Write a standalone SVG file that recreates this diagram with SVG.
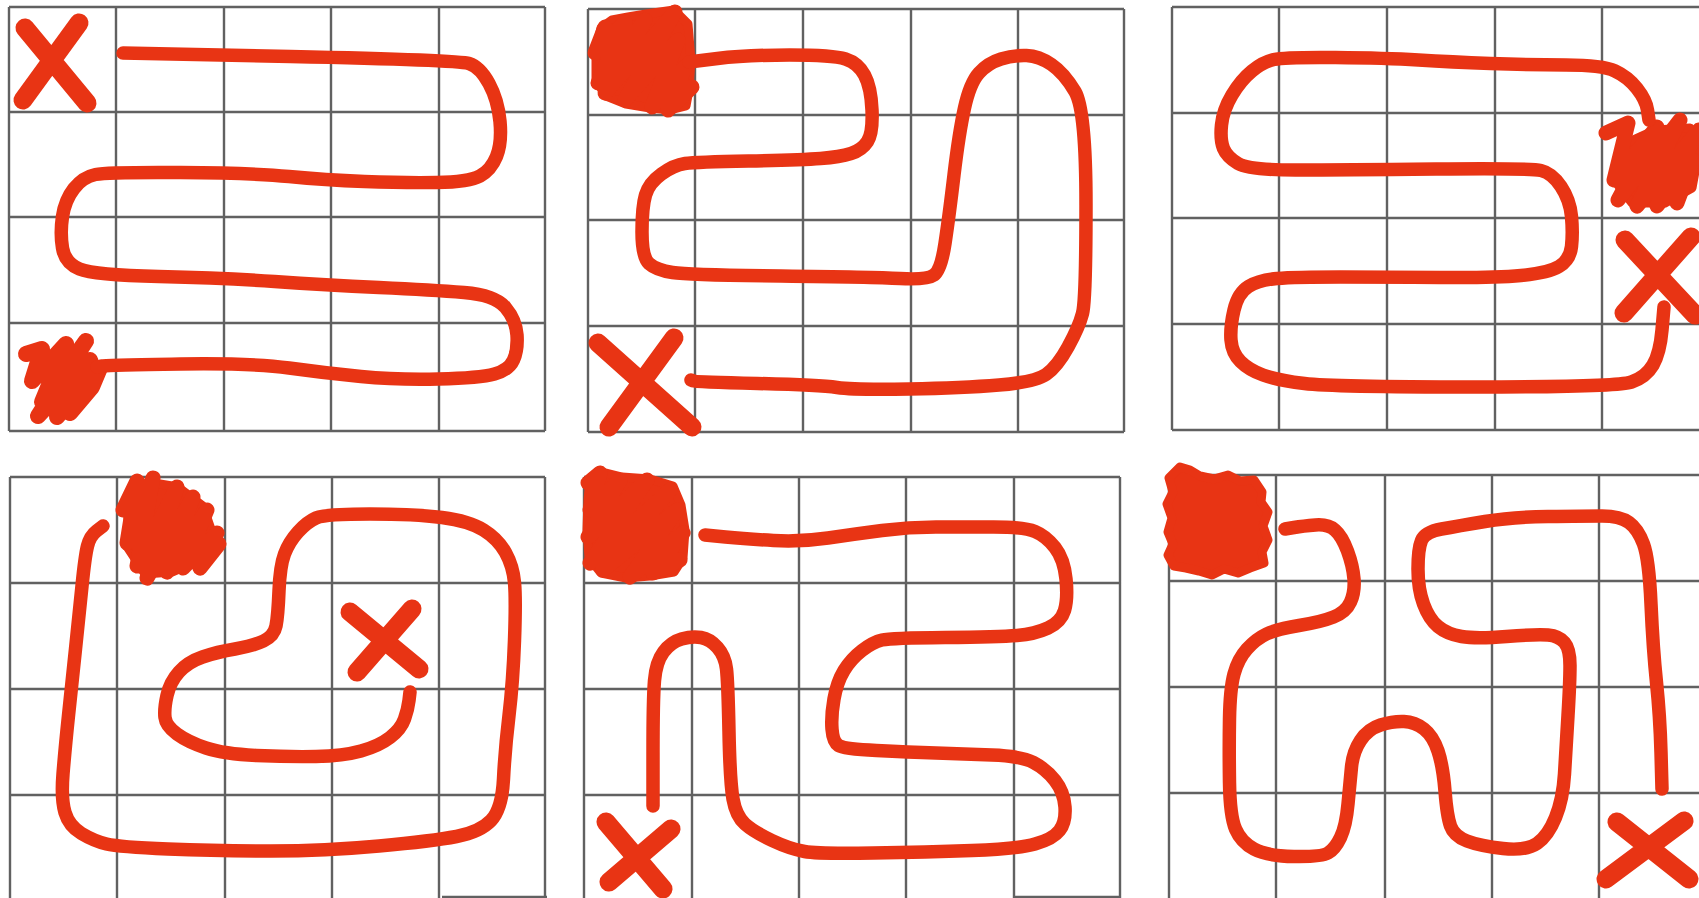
<svg xmlns="http://www.w3.org/2000/svg" width="1699" height="898" viewBox="0 0 1699 898">
<style>
.grid{fill:none;stroke:#505050;stroke-width:2.4;stroke-opacity:0.9}
.route{fill:none;stroke:#e83414;stroke-width:13.5;stroke-linecap:round;stroke-linejoin:round}
.x{fill:none;stroke:#e83414;stroke-width:19;stroke-linecap:round}
.scrib{fill:none;stroke:#e83414;stroke-linecap:round;stroke-linejoin:round}
.blob{fill:#e83414;stroke:#e83414;stroke-width:9;stroke-linejoin:round}
</style>
<rect width="1699" height="898" fill="#ffffff"/>

<g id="panel1">
<path class="grid" d="M9,7V431M116,7V431M224,7V431M331,7V431M439,7V431M545,7V431M9,7H545M9,112H545M9,217H545M9,323H545M9,431H545"/>
<path class="x" d="M25,28L87,103M79,23L23,100"/>
<polyline class="scrib" stroke-width="16" points="26,354 42,349 32,381 66,344 42,402 86,341 38,416 90,360 57,417 97,370 70,413 92,387 100,368"/>
</g>

<g id="panel2">
<path class="grid" d="M588,9V432M695,9V432M803,9V432M911,9V432M1018,9V432M1124,9V432M588,9H1124M588,115H1124M588,220H1124M588,326H1124M588,432H1124"/>
<path class="blob" d="M601,28L612,20L628,17L646,14L674,10L688,24L691,60L689,90L686,106L670,110L650,108L626,104L606,96L596,80L596,50Z"/>
<polyline class="scrib" stroke-width="15" points="605,27 595,53 625,22 598,83 645,20 605,93 675,12 625,100 678,40 652,107 685,67 668,110 692,87"/>
<path class="x" d="M598,343L692,427M674,338L609,427"/>
</g>

<g id="panel3">
<path class="grid" d="M1172,7V430M1279,7V430M1387,7V430M1495,7V430M1602,7V430M1172,7H1699M1172,113H1699M1172,218H1699M1172,324H1699M1172,430H1699"/>
<path class="blob" d="M1622,145L1655,130L1690,128L1699,150L1692,188L1665,203L1632,203L1618,185Z"/>
<polyline class="scrib" stroke-width="15" points="1606,133 1628,123 1614,180 1657,127 1618,200 1680,120 1637,206 1699,130 1657,206 1693,160 1677,203"/>
<path class="x" d="M1625,240L1695,315M1691,237L1624,313"/>
</g>

<g id="panel4">
<path class="grid" d="M10,477V898M117,477V898M225,477V898M332,477V898M439,477V898M545,477V898M10,477H545M10,583H545M10,689H545M10,795H545M442,897H547"/>
<path class="blob" d="M128,500L148,482L178,487L203,506L213,535L200,560L172,572L145,574L128,548Z"/>
<polyline class="scrib" stroke-width="15" points="123,510 137,481 127,543 153,478 137,566 177,487 147,578 193,497 167,572 207,510 183,568 217,533 200,568 219,544"/>
<path class="x" stroke-width="15" d="M350,612L419,669M412,609L357,672"/>
</g>

<g id="panel5">
<path class="grid" d="M584,477V898M692,477V898M799,477V898M906,477V898M1014,477V898M1120,477V898M584,477H1120M584,583H1120M584,689H1120M584,795H1120M1014,897H1120"/>
<path class="blob" d="M590,478L602,472L622,477L650,479L673,486L681,505L685,530L683,558L674,572L650,576L626,578L601,573L589,558L587,530L588,500Z"/>
<polyline class="scrib" stroke-width="15" points="588,483 600,473 590,510 620,480 588,537 647,480 590,563 670,490 603,570 677,510 630,577 683,533 653,573 680,560"/>
<path class="x" d="M606,822L663,889M671,829L609,882"/>
</g>

<g id="panel6">
<path class="grid" d="M1169,475V898M1276,475V898M1385,475V898M1492,475V898M1599,475V898M1169,475H1699M1169,581H1699M1169,687H1699M1169,793H1699"/>
<path class="blob" d="M1180,467L1190,470L1200,476L1214,479L1228,475L1240,481L1254,480L1262,492L1261,502L1268,512L1263,526L1268,540L1262,552L1264,563L1250,568L1238,573L1224,569L1212,575L1199,571L1186,568L1174,566L1168,555L1173,544L1168,532L1172,518L1167,504L1173,492L1169,478Z"/>
<path class="x" d="M1617,822L1689,879M1684,821L1606,879"/>
</g>

<g id="connectors">
<path class="route" d="M123,53 L290.5,56.5 Q458,60 469,63.5 Q480,67 489,83.5 Q498,100 500,121.5 Q502,143 496.5,156.5 Q491,170 480,176 Q469,182 436.5,182.5 Q404,183 364.5,181.5 Q325,180 289,176.5 Q253,173 180.5,172.5 Q108,172 95.5,174.5 Q83,177 74,188.5 Q65,200 62.5,216.5 Q60,233 62.5,248 Q65,263 79.5,269 Q94,275 159,276.5 Q224,278 274.5,281.5 Q325,285 379,287.5 Q433,290 464,292.5 Q495,295 505.5,307.5 Q516,320 517,335 Q518,350 513.5,360 Q509,370 494.5,374 Q480,378 438.5,379 Q397,380 361,376.5 Q325,373 289,368 Q253,363 180.5,364 Q108,365 102.5,366 L97,367"/>
<path class="route" d="M689,62 L717.5,58.5 Q746,55 789.5,55 Q833,55 845.5,59 Q858,63 864.5,75 Q871,87 872,110 Q873,133 867.5,141.5 Q862,150 851,153.5 Q840,157 820.5,158.5 Q801,160 748.5,161 Q696,162 685,163.5 Q674,165 661.5,174 Q649,183 645.5,195 Q642,207 642,232 Q642,257 649,263.5 Q656,270 672.5,272.5 Q689,275 781,276 Q873,277 900,278.5 Q927,280 934,275 Q941,270 945,243.5 Q949,217 954,175 Q959,133 964.5,108 Q970,83 979,73 Q988,63 1001,59 Q1014,55 1026.5,55.5 Q1039,56 1051.5,64.5 Q1064,73 1075,91.5 Q1086,110 1086,205 Q1086,300 1082.5,313.5 Q1079,327 1068,347 Q1057,367 1046,374.5 Q1035,382 999,385 Q963,388 909,389 Q855,390 837,387.5 Q819,385 757.5,383.5 Q696,382 693.5,381 L691,380"/>
<path class="route" d="M1649,120 L1647.5,110 Q1646,100 1637,88.5 Q1628,77 1615,71 Q1602,65 1566,65 Q1530,65 1490.5,63.5 Q1451,62 1418.5,60 Q1386,58 1335.5,57.5 Q1285,57 1274,59.5 Q1263,62 1252,71 Q1241,80 1232,95 Q1223,110 1221.5,125 Q1220,140 1223.5,148.5 Q1227,157 1238,163.5 Q1249,170 1295.5,170 Q1342,170 1436,169 Q1530,168 1541,170.5 Q1552,173 1561,186.5 Q1570,200 1571.5,216.5 Q1573,233 1571.5,246.5 Q1570,260 1559,266.5 Q1548,273 1521,275.5 Q1494,278 1440,277.5 Q1386,277 1340.5,277 Q1295,277 1277,278.5 Q1259,280 1248.5,286.5 Q1238,293 1234,310 Q1230,327 1231,340 Q1232,353 1240.5,361.5 Q1249,370 1263,375 Q1277,380 1304.5,383.5 Q1332,387 1474.5,387 Q1617,387 1631.5,382 Q1646,377 1653,365 Q1660,353 1662,330 L1664,307"/>
<path class="route" d="M103,526 L96.5,531 Q90,536 87.5,546 Q85,556 82,586 Q79,616 75.5,649 Q72,682 68.5,715.5 Q65,749 63,774 Q61,799 65,812.5 Q69,826 81.5,833.5 Q94,841 106.5,844 Q119,847 168,849 Q217,851 271,851 Q325,851 379,846 Q433,841 456.5,836.5 Q480,832 491,820.5 Q502,809 503.5,779 Q505,749 509,715.5 Q513,682 514.5,640.5 Q516,599 514.5,582.5 Q513,566 505.5,552.5 Q498,539 483.5,530 Q469,521 442,517.5 Q415,514 370,514 Q325,514 316,518 Q307,522 298,532 Q289,542 284.5,554 Q280,566 279,591 Q278,616 276,626 Q274,636 263.5,641 Q253,646 235,649 Q217,652 202.5,657 Q188,662 179,672 Q170,682 167,695.5 Q164,709 165,717.5 Q166,726 177,734 Q188,742 206,748 Q224,754 256.5,755.5 Q289,757 316,756.5 Q343,756 361,751 Q379,746 390,737.5 Q401,729 404.5,719 Q408,709 409,700.5 L410,692"/>
<path class="route" d="M705,535 L725.5,537 Q746,539 773.5,540.5 Q801,542 828,538 Q855,534 882,530.5 Q909,527 936,527 Q963,527 993.5,527 Q1024,527 1035,531.5 Q1046,536 1055,547.5 Q1064,559 1066,579 Q1068,599 1064.5,610.5 Q1061,622 1048,628 Q1035,634 1017,635.5 Q999,637 945,637.5 Q891,638 882,640 Q873,642 862,650.5 Q851,659 844,670.5 Q837,682 834,699 Q831,716 832,729 Q833,742 838.5,745.5 Q844,749 876.5,750.5 Q909,752 936,753 Q963,754 992,755 Q1021,756 1033.5,762.5 Q1046,769 1055,780.5 Q1064,792 1065,807 Q1066,822 1059.5,830.5 Q1053,839 1035,844 Q1017,849 972,850.5 Q927,852 873,853 Q819,854 804.5,851.5 Q790,849 772,840.5 Q754,832 745,824 Q736,816 733,799 Q730,782 729,732 Q728,682 726.5,669 Q725,656 717.5,647.5 Q710,639 701,637.5 Q692,636 681.5,639 Q671,642 663.5,652 Q656,662 654.5,680.5 Q653,699 653,752.5 L653,806"/>
<path class="route" d="M1285,529 L1294,527.5 Q1303,526 1315.5,525 Q1328,524 1335,530 Q1342,536 1347.5,551 Q1353,566 1354,579 Q1355,592 1350.5,602 Q1346,612 1333.5,617 Q1321,622 1299,625.5 Q1277,629 1266.5,634 Q1256,639 1247,649 Q1238,659 1234,674 Q1230,689 1229.5,719 Q1229,749 1229.5,782.5 Q1230,816 1235.5,829 Q1241,842 1254,849 Q1267,856 1294,856.5 Q1321,857 1328,853 Q1335,849 1340.5,837.5 Q1346,826 1348,804 Q1350,782 1351.5,767 Q1353,752 1360.5,740.5 Q1368,729 1380.5,725 Q1393,721 1404,721.5 Q1415,722 1424,729 Q1433,736 1438,751 Q1443,766 1445,791 Q1447,816 1450.5,826 Q1454,836 1467,841 Q1480,846 1503,848.5 Q1526,851 1537,843.5 Q1548,836 1555.5,817.5 Q1563,799 1564.5,774 Q1566,749 1568,715.5 Q1570,682 1570,665.5 Q1570,649 1564.5,642.5 Q1559,636 1548,635 Q1537,634 1506.5,636.5 Q1476,639 1461.5,636.5 Q1447,634 1438,626.5 Q1429,619 1423.5,604 Q1418,589 1418,569 Q1418,549 1421.5,540.5 Q1425,532 1441.5,529 Q1458,526 1485,521.5 Q1512,517 1548,516.5 Q1584,516 1602,516 Q1620,516 1629,522.5 Q1638,529 1643.5,544 Q1649,559 1651,604 Q1653,649 1656.5,682.5 Q1660,716 1661,752.5 L1662,789"/>
</g>
</svg>
